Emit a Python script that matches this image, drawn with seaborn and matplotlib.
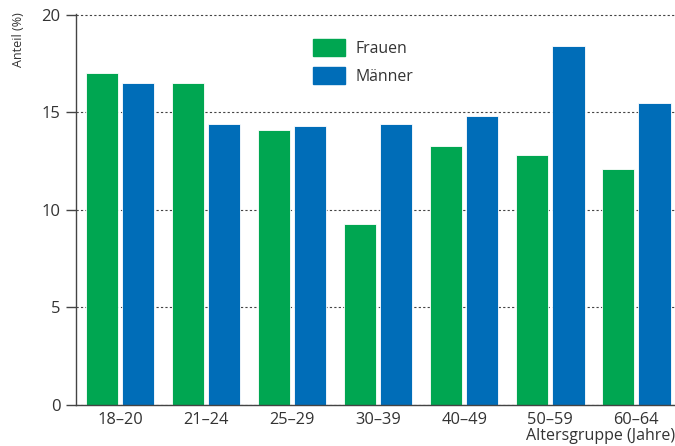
import pandas as pd
import matplotlib.pyplot as plt
import seaborn as sns

# Daten ------------------------------------------------------------------
altersgruppen = ['18–20', '21–24', '25–29', '30–39', '40–49', '50–59', '60–64']
frauen = [17.0, 16.5, 14.1, 9.3, 13.3, 12.8, 12.1]
maenner = [16.5, 14.4, 14.3, 14.4, 14.8, 18.4, 15.5]

df = pd.DataFrame({
    'Altersgruppe': altersgruppen * 2,
    'Anteil': frauen + maenner,
    'Geschlecht': ['Frauen'] * len(frauen) + ['Männer'] * len(maenner),
})

sns.set_theme(style='white')
plt.rcParams['font.family'] = ['Open Sans', 'DejaVu Sans']

fig = plt.figure(figsize=(6.75, 4.46), dpi=100)
ax = fig.add_axes([76 / 675, 41 / 446, 1 - 76 / 675, 391 / 446])

farben = {'Frauen': '#00a651', 'Männer': '#006db8'}
sns.barplot(data=df, x='Altersgruppe', y='Anteil', hue='Geschlecht',
            palette=farben, width=0.84, gap=0.1, ax=ax,
            edgecolor='white', linewidth=0.6, saturation=1, legend=False)

# Achsen -----------------------------------------------------------------
ax.set_ylim(0, 20.05)
ax.set_xlim(-0.51, 6.45)
ax.set_yticks([0, 5, 10, 15, 20])
ax.yaxis.grid(True, ls=(0, (2, 2)), color='#444444', lw=0.8)
ax.set_axisbelow(True)
for s in ['top', 'right']:
    ax.spines[s].set_visible(False)
for s in ['left', 'bottom']:
    ax.spines[s].set_color('#444444')
    ax.spines[s].set_linewidth(1.0)
ax.tick_params(axis='y', length=7, width=1, color='#444444', labelsize=12,
               labelcolor='#333333', pad=4, left=True)
ax.tick_params(axis='x', length=0, labelsize=11.8, labelcolor='#333333', pad=5)
ax.set_xlabel('')
ax.set_ylabel('')

fig.text(19 / 675, 1 - 12 / 446, 'Anteil (%)', rotation=90, ha='center',
         va='top', fontsize=9, color='#333333')
fig.text(1.0, 1 - 436 / 446, 'Altersgruppe (Jahre)', ha='right', va='center',
         fontsize=11.5, color='#333333')

# Legende ----------------------------------------------------------------
handles = [plt.Rectangle((0, 0), 1, 1, color=farben[k]) for k in farben]
fig.legend(handles, list(farben), loc='upper left',
           bbox_to_anchor=(305 / 675, 1 - 31 / 446), frameon=False,
           borderpad=0, handlelength=2.0, handleheight=1.3,
           labelspacing=0.65, handletextpad=0.7, fontsize=11.4,
           labelcolor='#333333')

fig.savefig('out.png', dpi=100)
